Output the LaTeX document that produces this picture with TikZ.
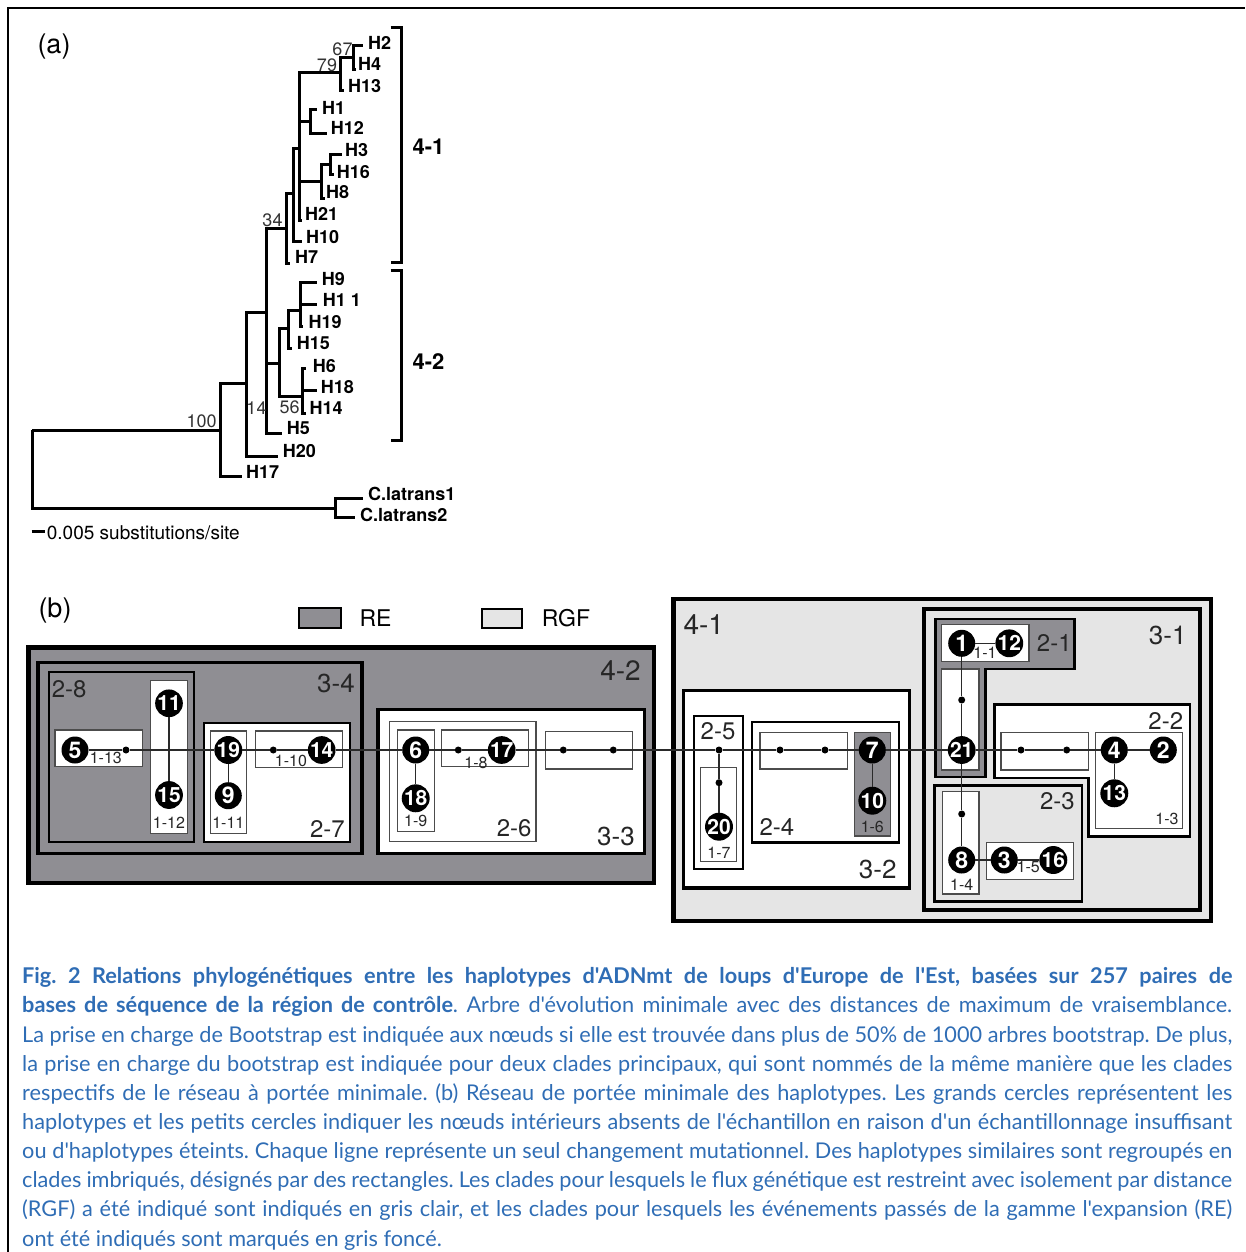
\documentclass[tikz,border=0pt]{standalone}
\usepackage{fontspec}
\setmainfont{TeX Gyre Heros}
\newfontfamily\capfont{Lato}
\definecolor{dg}{HTML}{8F8E93}
\definecolor{lg}{HTML}{E5E5E5}
\definecolor{capblue}{HTML}{2F6DB5}
\definecolor{ln}{HTML}{2A2A2A}
\begin{document}
\frenchspacing
\begin{tikzpicture}[x=1pt,y=-1pt,
  br/.style={line width=3pt, draw=black, line join=miter},
  leaf/.style={anchor=west, inner sep=0pt, font=\fontsize{18}{18}\selectfont\bfseries},
  boot/.style={inner sep=0pt, text=black!80, font=\fontsize{18}{18}\selectfont},
  panel/.style={inner sep=0pt, font=\fontsize{27}{27}\selectfont},
  cladeA/.style={inner sep=0pt, font=\fontsize{22}{22}\selectfont\bfseries},
  box4/.style={draw=black, line width=4.5pt},
  box3/.style={draw=black, line width=3.5pt},
  box2/.style={draw=black, line width=2.2pt},
  box1/.style={draw=black!70, line width=1.2pt},
  lab4/.style={inner sep=0pt, text=black!85, font=\fontsize{28}{28}\selectfont},
  lab3/.style={inner sep=0pt, text=black!85, font=\fontsize{26}{26}\selectfont},
  lab2/.style={inner sep=0pt, text=black!85, font=\fontsize{24}{24}\selectfont},
  lab1/.style={inner sep=0pt, text=black!85, font=\fontsize{16}{16}\selectfont},
  hap/.style={circle, fill=black, minimum size=27pt, inner sep=0pt, text=white, font=\fontsize{23}{23}\selectfont\bfseries},
  hapb/.style={hap, font=\fontsize{21}{21}\selectfont\bfseries},
  mdot/.style={circle, fill=black, minimum size=7pt, inner sep=0pt},
  netline/.style={draw=ln, line width=1.2pt},
  captext/.style={inner sep=0pt, anchor=base west, text=capblue, font=\capfont\fontsize{21.7}{21.7}\selectfont}
]
\useasboundingbox (0,0) rectangle (1245,1252);
% frame
\draw[line width=2.7pt] (8,1252) -- (8,8) -- (1245,8);

% ---------- (a) tree ----------
\node[panel] (pa) at (54,47) {(a)};
\coordinate (R) at (32,430);
\coordinate (N100) at (220,430);
\coordinate (CL) at (335,508);
\coordinate (tCL1) at (363,498);
\coordinate (tCL2) at (355,517);
\coordinate (B) at (246.7,383.3);
\coordinate (tH17) at (241.7,476.7);
\coordinate (C) at (266.7,312.7);
\coordinate (tH20) at (278.3,456);
\coordinate (D) at (286.7,228.3);
\coordinate (E) at (279.3,363.3);
\coordinate (tH5) at (281.7,433.3);
\coordinate (F) at (293.3,193.3);
\coordinate (tH7) at (290,263.3);
\coordinate (G) at (299.3,148.3);
\coordinate (tH10) at (301.7,241.7);
\coordinate (N79) at (340,72.7);
\coordinate (N112) at (310,121.7);
\coordinate (N3168) at (321.7,181.7);
\coordinate (tH21) at (301.5,220);
\coordinate (N67) at (353,57.3);
\coordinate (tH13) at (344,90.7);
\coordinate (tH2) at (363,45.7);
\coordinate (tH4) at (356,69.3);
\coordinate (tH1) at (317,110);
\coordinate (tH12) at (327,133.3);
\coordinate (N316) at (330.7,165);
\coordinate (tH8) at (325,198.3);
\coordinate (tH3) at (341.7,154.3);
\coordinate (tH16) at (334,175);
\coordinate (Ea) at (288.3,328.3);
\coordinate (Eb) at (302.7,396.7);
\coordinate (Ec) at (300,310);
\coordinate (tH15) at (291.7,348.3);
\coordinate (tH9) at (316.7,282.7);
\coordinate (tH11) at (316.7,304);
\coordinate (tH19) at (303.3,326.7);
\coordinate (tH6) at (305.5,368.3);
\coordinate (tH18) at (316.7,390);
\coordinate (tH14) at (306,413.3);

\draw[br] (R) |- (N100) (R) |- (CL) (CL) |- (tCL1) (CL) |- (tCL2);
\draw[br] (N100) |- (B) (N100) |- (tH17);
\draw[br] (B) |- (C) (B) |- (tH20);
\draw[br] (C) |- (D) (C) |- (E) (C) |- (tH5);
\draw[br] (D) |- (F) (D) |- (tH7);
\draw[br] (F) |- (G) (F) |- (tH10);
\draw[br] (G) |- (N79) (G) |- (N112) (G) |- (N3168) (G) |- (tH21);
\draw[br] (N79) |- (N67) (N79) |- (tH13);
\draw[br] (N67) |- (tH2) (N67) |- (tH4);
\draw[br] (N112) |- (tH1) (N112) |- (tH12);
\draw[br] (N3168) |- (N316) (N3168) |- (tH8);
\draw[br] (N316) |- (tH3) (N316) |- (tH16);
\draw[br] (E) |- (Ea) (E) |- (Eb);
\draw[br] (Ea) |- (Ec) (Ea) |- (tH15);
\draw[br] (Ec) |- (tH9) (Ec) |- (tH11) (Ec) |- (tH19);
\draw[br] (Eb) |- (tH6) (Eb) |- (tH18) (Eb) |- (tH14);

\node[leaf] (lH2) at (368,43) {H2};
\node[leaf] (lH4) at (358,64.3) {H4};
\node[leaf] (lH13) at (348,86) {H13};
\node[leaf] (lH1) at (322,108.3) {H1};
\node[leaf] (lH12) at (330.7,128.3) {H12};
\node[leaf] (lH3) at (345,150) {H3};
\node[leaf] (lH16) at (336.7,171.7) {H16};
\node[leaf] (lH8) at (326,192.3) {H8};
\node[leaf] (lH21) at (305,214) {H21};
\node[leaf] (lH10) at (306,236.7) {H10};
\node[leaf] (lH7) at (295,257.3) {H7};
\node[leaf] (lH9) at (321.7,279.3) {H9};
\node[leaf] (lH11) at (322.7,300) {H1 1};
\node[leaf] (lH19) at (308.3,321.7) {H19};
\node[leaf] (lH15) at (296.7,342.7) {H15};
\node[leaf] (lH6) at (312.7,366) {H6};
\node[leaf] (lH18) at (320.7,386.7) {H18};
\node[leaf] (lH14) at (309.3,407.7) {H14};
\node[leaf] (lH5) at (286.7,428.3) {H5};
\node[leaf] (lH20) at (282.7,450.7) {H20};
\node[leaf] (lH17) at (246,471.7) {H17};
\node[leaf] (lCL1) at (368,494) {C.latrans1};
\node[leaf] (lCL2) at (360,515) {C.latrans2};

\node[boot] (b67) at (342.5,49) {67};
\node[boot] (b79) at (327,65.5) {79};
\node[boot] (b34) at (272.5,220) {34};
\node[boot] (b100) at (201.7,421.5) {100};
\node[boot] (b14) at (256.5,408.5) {14};
\node[boot] (b56) at (289.7,407.3) {56};

\draw[br] (390.7,27.3) -- (401.7,27.3) -- (401.7,262.7) -- (390.7,262.7);
\draw[br] (390.7,270.7) -- (401.7,270.7) -- (401.7,440.7) -- (390.7,440.7);
\node[cladeA] (c41) at (428.5,147) {4-1};
\node[cladeA] (c42) at (428.5,362) {4-2};

\draw[line width=3pt] (31.7,531.7) -- (45,531.7);
\node[anchor=west, inner sep=0pt, font=\fontsize{19}{19}\selectfont] (scale) at (46.7,532.7) {0.005 substitutions/site};

% ---------- (b) network ----------
\node[panel] (pb) at (55,611) {(b)};
\draw[line width=2pt, fill=dg] (299.3,607.7) rectangle (340.7,628.3);
\node[anchor=west, inner sep=0pt, font=\fontsize{23}{23}\selectfont] (lre) at (359.3,618.3) {RE};
\draw[line width=2pt, fill=lg] (481.7,609.3) rectangle (522.3,628.3);
\node[anchor=west, inner sep=0pt, font=\fontsize{23}{23}\selectfont] (lrgf) at (541.7,618.5) {RGF};

% 4-2 clade
\path[box4, fill=dg] (28.3,647.5) rectangle (654,883);
\path[box3, fill=dg] (38,662.3) rectangle (362,853.7);
\path[box2, fill=dg] (48.7,672.2) rectangle (193.8,842.2);
\path[box1, fill=white] (55,730) rectangle (142.3,766.7);
\path[box1, fill=white] (150.7,680.7) rectangle (187.3,833.3);
\path[box2, fill=white] (204,722.8) rectangle (349.7,842);
\path[box1, fill=white] (210.7,731) rectangle (246.7,833.3);
\path[box1, fill=white] (255.3,731) rectangle (342.7,767.3);
\path[box3, fill=white] (378,709.3) rectangle (644.7,853.7);
\path[box1, fill=white] (389.3,721.7) rectangle (536,841.7);
\path[box1, fill=white] (397.7,730) rectangle (434.3,831.7);
\path[box1, fill=white] (441.7,730) rectangle (528.3,766.7);
\path[box1, fill=white] (545.7,731.7) rectangle (632.7,769);

% 4-1 clade
\path[box4, fill=lg] (673.3,599.2) rectangle (1210.8,920.8);
\path[box3, fill=white] (683.7,690.7) rectangle (909.7,888);
\path[box2, fill=white] (693.8,716.2) rectangle (742.8,869.2);
\path[box1, fill=white] (700.7,767.3) rectangle (736.7,861.7);
\path[box2, fill=white] (752.2,722) rectangle (898.8,842.5);
\path[box1, fill=white] (760,732.7) rectangle (847.3,769);
\path[box1, fill=dg] (854.3,732.7) rectangle (890.7,836);
\path[box3, line width=4pt, fill=lg] (924,609) rectangle (1200.3,910.3);
\path[box2, fill=dg] (935.5,618.8) -- (1074.5,618.8) -- (1074.5,668.8) -- (985.5,668.8) -- (985.5,777.2) -- (935.5,777.2) -- cycle;
\path[box1, fill=white] (941.7,624.3) rectangle (1029,661.7);
\path[box1, fill=white] (941.7,669) rectangle (979,770);
\path[box2, fill=white] (994.5,704.5) -- (1190.2,704.5) -- (1190.2,836.5) -- (1088.5,836.5) -- (1088.5,778.2) -- (994.5,778.2) -- cycle;
\path[box1, fill=white] (1001,732.7) rectangle (1088.3,770);
\path[box1, fill=white] (1095.7,732.7) rectangle (1182.7,828.3);
\path[box2, line width=2.5pt, fill=lg] (934.5,785.3) rectangle (1082,901.3);
\path[box1, fill=white] (942.3,791.7) rectangle (979,894);
\path[box1, fill=white] (986.7,842.7) rectangle (1073.3,879.3);

% clade labels
\node[lab4, anchor=east] (k42) at (641,671) {4-2};
\node[lab3, anchor=east] (k34) at (355,683) {3-4};
\node[lab2, anchor=west] (k28) at (51.7,689.2) {2-8};
\node[lab2, anchor=east] (k27) at (345,829) {2-7};
\node[lab3, anchor=east] (k33) at (635,836.7) {3-3};
\node[lab2, anchor=east] (k26) at (531.7,828.3) {2-6};
\node[lab4, anchor=west] (k41) at (683.3,625) {4-1};
\node[lab2] (k25) at (718,731) {2-5};
\node[lab2, anchor=west] (k24) at (759.3,826.7) {2-4};
\node[lab3, anchor=east] (k32) at (896.7,869.2) {3-2};
\node[lab3, anchor=east] (k31) at (1186.7,635.8) {3-1};
\node[lab2, anchor=west] (k21) at (1036.7,643.3) {2-1};
\node[lab2, anchor=east] (k22) at (1183.3,720.8) {2-2};
\node[lab2, anchor=east] (k23) at (1075,800.8) {2-3};

\node[lab1] (s113) at (105.8,758.3) {1-13};
\node[lab1] (s112) at (169,823.3) {1-12};
\node[lab1] (s111) at (228.3,823.3) {1-11};
\node[lab1] (s110) at (291,761) {1-10};
\node[lab1] (s19) at (415.7,821) {1-9};
\node[lab1] (s18) at (476,763) {1-8};
\node[lab1] (s17) at (719,853.3) {1-7};
\node[lab1] (s16) at (872.3,827.3) {1-6};
\node[lab1] (s11) at (985,653) {1-1};
\node[lab1] (s13) at (1167,819) {1-3};
\node[lab1] (s14) at (961.7,885) {1-4};
\node[lab1] (s15) at (1028.3,867.3) {1-5};

% network nodes
\node[hap] (n5) at (75,750) {5};
\node[hapb] (n11) at (169,703.3) {11};
\node[hapb] (n15) at (169,795) {15};
\node[hapb] (n19) at (228.3,750) {19};
\node[hap] (n9) at (228.3,795.7) {9};
\node[hapb] (n14) at (321.7,750) {14};
\node[hap] (n6) at (415.7,750) {6};
\node[hapb] (n18) at (415.7,798.3) {18};
\node[hapb] (n17) at (501.7,750) {17};
\node[hapb] (n20) at (719,826.7) {20};
\node[hap] (n7) at (872.3,750) {7};
\node[hapb] (n10) at (872.3,800.7) {10};
\node[hap] (n1) at (961.7,643.3) {1};
\node[hapb] (n12) at (1009.3,643.3) {12};
\node[hapb] (n21) at (961.7,750) {21};
\node[hap] (n4) at (1114.3,750) {4};
\node[hap] (n2) at (1163.3,750) {2};
\node[hapb] (n13) at (1114.3,793.3) {13};
\node[hap] (n8) at (961.7,860) {8};
\node[hap] (n3) at (1004.3,860) {3};
\node[hapb] (n16) at (1053.3,860) {16};

\node[mdot] (d1) at (126,750) {};
\node[mdot] (d2) at (273.3,750) {};
\node[mdot] (d3) at (458.3,750) {};
\node[mdot] (d4) at (563.3,750) {};
\node[mdot] (d5) at (613.3,750) {};
\node[mdot] (d6) at (719,750) {};
\node[mdot] (d7) at (719,782.7) {};
\node[mdot] (d8) at (780,750) {};
\node[mdot] (d9) at (825,750) {};
\node[mdot] (d10) at (961.7,700) {};
\node[mdot] (d11) at (1021,750) {};
\node[mdot] (d12) at (1066.7,750) {};
\node[mdot] (d13) at (961.7,814) {};

\draw[netline] (n5) -- (d1) -- (n19) -- (d2) -- (n14) -- (n6) -- (d3) -- (n17) -- (d4) -- (d5) -- (d6) -- (d8) -- (d9) -- (n7) -- (n21) -- (d11) -- (d12) -- (n4) -- (n2);
\draw[netline] (n11) -- (n15);
\draw[netline] (n19) -- (n9);
\draw[netline] (n6) -- (n18);
\draw[netline] (d6) -- (d7) -- (n20);
\draw[netline] (n7) -- (n10);
\draw[netline] (n1) -- (d10) -- (n21) -- (d13) -- (n8);
\draw[netline] (n1) -- (n12);
\draw[netline] (n4) -- (n13);
\draw[netline] (n8) -- (n3) -- (n16);

% ---------- caption ----------
\node[captext] (cap1) at (22,983) {\makebox[1210pt][s]{\bfseries Fig. 2 Relations phylogénétiques entre les haplotypes d'ADNmt de loups d'Europe de l'Est, basées sur 257 paires de}};
\node[captext] (cap2) at (22,1012.5) {\makebox[1210pt][s]{\textbf{bases de séquence de la région de contrôle}. Arbre d'évolution minimale avec des distances de maximum de vraisemblance.}};
\node[captext] (cap3) at (22,1042) {\makebox[1210pt][s]{La prise en charge de Bootstrap est indiquée aux nœuds si elle est trouvée dans plus de 50\% de 1000 arbres bootstrap. De plus,}};
\node[captext] (cap4) at (22,1071) {\makebox[1210pt][s]{la prise en charge du bootstrap est indiquée pour deux clades principaux, qui sont nommés de la même manière que les clades}};
\node[captext] (cap5) at (22,1100) {\makebox[1210pt][s]{respectifs de le réseau à portée minimale. (b) Réseau de portée minimale des haplotypes. Les grands cercles représentent les}};
\node[captext] (cap6) at (22,1129.5) {\makebox[1210pt][s]{haplotypes et les petits cercles indiquer les nœuds intérieurs absents de l'échantillon en raison d'un échantillonnage insuffisant}};
\node[captext] (cap7) at (22,1158.5) {\makebox[1210pt][s]{ou d'haplotypes éteints. Chaque ligne représente un seul changement mutationnel. Des haplotypes similaires sont regroupés en}};
\node[captext] (cap8) at (22,1187.5) {\makebox[1210pt][s]{clades imbriqués, désignés par des rectangles. Les clades pour lesquels le flux génétique est restreint avec isolement par distance}};
\node[captext] (cap9) at (22,1216.5) {\makebox[1210pt][s]{(RGF) a été indiqué sont indiqués en gris clair, et les clades pour lesquels les événements passés de la gamme l'expansion (RE)}};
\node[captext] (cap10) at (22,1246) {ont été indiqués sont marqués en gris foncé.};
\end{tikzpicture}
\end{document}
